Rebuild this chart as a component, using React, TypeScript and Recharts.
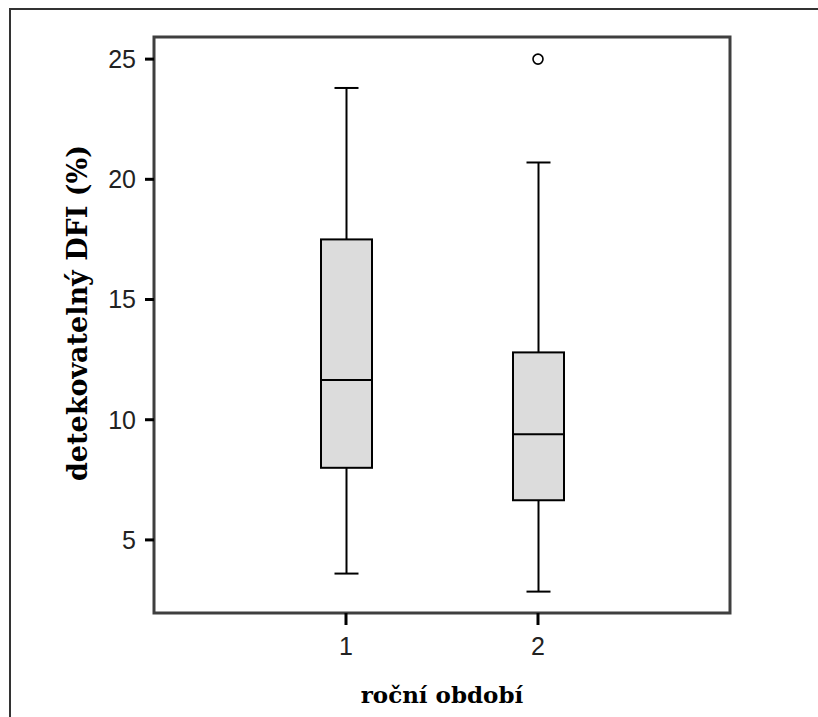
import React from "react";
import { ComposedChart, Bar, Scatter, XAxis, YAxis, ReferenceArea } from "recharts";

// box plot summary per group
const groups = [1, 2];
const mins = [3.6, 2.85];
const q1s = [8.0, 6.65];
const medians = [11.65, 9.4];
const q3s = [17.5, 12.8];
const maxs = [23.8, 20.7];
const outlierGroups = [2];
const outlierValues = [25.0];
const xTicks = [1, 2];
const xDomain = [0, 3];
const yTicks = [5, 10, 15, 20, 25];
const yDomain = [1.96, 25.92];

const data = groups.map((g, i) => ({
  group: g,
  min: mins[i],
  q1: q1s[i],
  median: medians[i],
  q3: q3s[i],
  max: maxs[i],
}));

const outliers = outlierGroups.map((g, i) => ({ group: g, value: outlierValues[i] }));

const FRAME = "#3f3f3f";
const serif = "'DejaVu Serif', serif";
const sans = "'Liberation Sans', Arial, sans-serif";

const BoxShape = (props: any) => {
  const { x, y, width, height, payload } = props;
  if (!payload) return null;
  const { min, q1, median, q3, max } = payload;
  const top = Math.min(y, y + height);
  const h = Math.abs(height);
  const k = h / (max - min);
  const py = (v: number) => top + (max - v) * k;
  const cx = x + width / 2;
  const cap = 12;
  const line = { stroke: "#000", strokeWidth: 2 };
  return (
    <g>
      <line x1={cx} x2={cx} y1={py(max)} y2={py(q3)} {...line} />
      <line x1={cx} x2={cx} y1={py(q1)} y2={py(min)} {...line} />
      <line x1={cx - cap} x2={cx + cap} y1={py(max)} y2={py(max)} {...line} />
      <line x1={cx - cap} x2={cx + cap} y1={py(min)} y2={py(min)} {...line} />
      <rect x={x} y={py(q3)} width={width} height={py(q1) - py(q3)} fill="#dcdcdc" {...line} />
      <line x1={x} x2={x + width} y1={py(median)} y2={py(median)} {...line} />
    </g>
  );
};

const OutlierDot = (props: any) => {
  const { cx, cy } = props;
  return <circle cx={cx} cy={cy} r={5} fill="#fff" stroke="#000" strokeWidth={1.6} />;
};

const XTitle = (props: any) => {
  const { viewBox } = props;
  return (
    <text x={viewBox.x + viewBox.width / 2} y={viewBox.y + 90} textAnchor="middle"
      fontFamily={serif} fontWeight="bold" fontSize={23} fill="#000">
      roční období
    </text>
  );
};

const YTitle = (props: any) => {
  const { viewBox } = props;
  const x = 87;
  const y = viewBox.y + viewBox.height / 2 - 12;
  return (
    <text x={x} y={y} transform={`rotate(-90, ${x}, ${y})`} textAnchor="middle"
      fontFamily={serif} fontWeight="bold" fontSize={27} fill="#000">
      detekovatelný DFI (%)
    </text>
  );
};

export default function App() {
  return (
    <div style={{ position: "absolute", left: 0, top: 0, width: 818, height: 717, background: "#fff" }}>
      <div style={{ position: "absolute", left: 9, top: 8, right: 0, bottom: 0, borderTop: "2px solid #333", borderLeft: "2px solid #333" }} />
      <div style={{ position: "absolute", left: 0, top: 0 }}>
        <ComposedChart width={818} height={717} data={data} margin={{ top: 37, right: 88, bottom: 0, left: 0 }}>
          <XAxis
            dataKey="group"
            type="number"
            domain={xDomain}
            ticks={xTicks}
            height={104}
            axisLine={false}
            tickLine={{ stroke: "#000", strokeWidth: 3 }}
            tickSize={12}
            tickMargin={12}
            tick={{ fontFamily: sans, fontSize: 25, fill: "#222" }}
            label={<XTitle />}
          />
          <YAxis
            type="number"
            domain={yDomain}
            ticks={yTicks}
            width={154}
            axisLine={false}
            tickLine={{ stroke: "#000", strokeWidth: 3 }}
            tickSize={9}
            tickMargin={9}
            tick={{ fontFamily: sans, fontSize: 25, fill: "#222" }}
            label={<YTitle />}
          />
          {/* plot frame */}
          <ReferenceArea x1={xDomain[0]} x2={xDomain[1]} y1={yDomain[0]} y2={yDomain[1]}
            fill="none" fillOpacity={0} stroke={FRAME} strokeWidth={3} strokeOpacity={1} ifOverflow="visible" />
          <Bar dataKey={(d: any) => [d.min, d.max]} barSize={51} shape={<BoxShape />} isAnimationActive={false} />
          <Scatter data={outliers} dataKey="value" shape={<OutlierDot />} isAnimationActive={false} />
        </ComposedChart>
      </div>
    </div>
  );
}
